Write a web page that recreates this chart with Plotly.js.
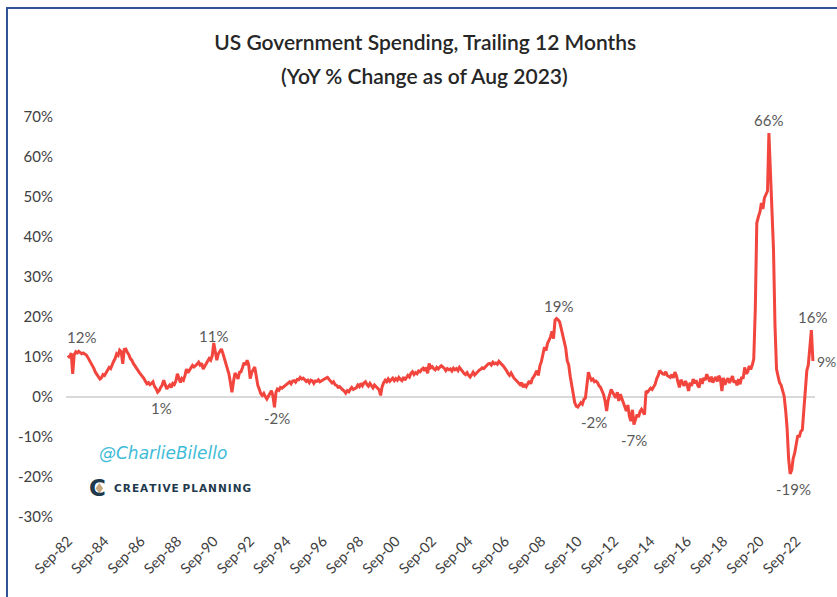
<!DOCTYPE html>
<html>
<head>
<meta charset="utf-8">
<script src="https://cdn.plot.ly/plotly-3.0.1.min.js"></script>
<style>
  html, body { margin: 0; padding: 0; background: #ffffff; }
  #wrap { position: relative; width: 837px; height: 597px; overflow: hidden; }
  #chart { position: absolute; left: 0; top: 0; width: 837px; height: 597px; }
  #frame { position: absolute; left: 6px; top: 7px; width: 900px; height: 700px;
           border-left: 2px solid #2f5597; border-top: 2px solid #2f5597; pointer-events: none; }
</style>
</head>
<body>
<div id="wrap"><div id="chart"></div><div id="frame"></div></div>
<script>
// ---- DATA ----
const titleLine1 = "US Government Spending, Trailing 12 Months";
const titleLine2 = "(YoY % Change as of Aug 2023)";
const startYear = 1982;   // first observation: Sep 1982
const startMonth = 9;

// YoY % change of trailing-12-month US government spending, monthly, Sep 1982 .. Aug 2023
const yoyChange = [
  10.4, 9.8, 11.0, 5.8, 10.6, 11.3, 11.0, 11.4, 11.1, 10.8, 11.0, 10.7,   // Sep82-Aug83
  10.5, 9.9, 9.2, 8.6, 8.0, 7.1, 6.2, 5.6, 5.0, 4.5, 4.8, 5.6,            // 83-84
  5.4, 6.2, 6.6, 7.4, 7.1, 8.2, 8.9, 9.6, 10.8, 10.4, 11.7, 11.3,         // 84-85
  8.3, 11.9, 12.0, 11.2, 10.6, 9.6, 9.2, 8.4, 7.8, 7.0, 6.6, 6.1,         // 85-86
  5.6, 5.2, 4.6, 3.9, 3.3, 3.6, 3.1, 3.4, 3.8, 2.6, 2.1, 1.2,             // 86-87
  1.6, 2.4, 3.0, 4.2, 2.8, 2.0, 2.6, 3.0, 2.4, 3.4, 3.1, 4.0,             // 87-88
  5.8, 4.9, 3.6, 4.6, 4.2, 5.4, 7.0, 6.1, 6.8, 7.2, 7.9, 7.5,             // 88-89
  7.8, 8.2, 8.7, 8.0, 8.4, 7.0, 7.6, 8.3, 9.0, 9.6, 9.2, 10.3,            // 89-90
  13.5, 11.0, 9.2, 10.8, 11.6, 12.0, 11.0, 9.6, 8.2, 7.5, 5.8, 3.6,       // 90-91
  1.2, 3.8, 6.0, 5.4, 4.5, 6.2, 6.3, 7.4, 8.6, 8.0, 9.2, 8.1,             // 91-92
  4.6, 6.1, 7.0, 7.5, 5.2, 2.9, 2.0, 0.8, 0.4, 0.9, 0.1, -0.5,            // 92-93
  0.2, 1.0, 1.6, 0.3, -2.6, 1.2, 2.0, 1.7, 2.4, 2.2, 2.5, 2.9,            // 93-94
  3.0, 3.5, 3.8, 3.3, 4.0, 4.1, 3.7, 4.4, 4.3, 4.9, 4.5, 4.7,             // 94-95
  4.4, 3.9, 4.2, 3.6, 4.2, 4.0, 3.4, 4.0, 3.9, 4.3, 3.8, 4.1,             // 95-96
  4.3, 4.5, 4.7, 4.9, 4.4, 3.9, 3.5, 3.8, 3.1, 2.9, 2.4, 2.6,             // 96-97
  2.1, 1.8, 1.5, 1.0, 1.6, 1.3, 1.9, 2.4, 1.9, 2.2, 2.3, 3.0,             // 97-98
  2.6, 3.4, 2.8, 3.5, 3.8, 3.1, 2.7, 3.4, 2.9, 2.3, 3.0, 2.6,             // 98-99
  2.4, 1.8, 0.4, 2.6, 3.6, 4.2, 3.8, 4.5, 3.9, 4.3, 4.7, 4.1,             // 99-00
  4.6, 4.2, 4.9, 4.4, 4.1, 5.0, 4.2, 4.8, 5.4, 5.0, 5.9, 6.3,             // 00-01
  5.6, 6.1, 5.8, 6.5, 6.3, 6.9, 7.2, 6.6, 7.4, 5.9, 8.4, 7.3,             // 01-02
  7.6, 7.1, 6.8, 7.4, 7.0, 7.5, 7.8, 7.5, 7.2, 6.6, 7.1, 6.8,             // 02-03
  7.0, 6.5, 7.2, 6.8, 7.1, 6.6, 7.4, 6.9, 6.3, 5.9, 5.6, 6.1,             // 03-04
  5.4, 5.0, 5.6, 6.2, 5.5, 6.0, 6.4, 6.7, 6.9, 7.3, 7.1, 7.6,             // 04-05
  7.9, 8.3, 8.4, 8.0, 8.7, 8.3, 8.5, 8.2, 8.9, 8.6, 8.1, 7.7,             // 05-06
  7.2, 6.6, 5.9, 5.4, 6.0, 5.1, 4.7, 4.3, 4.0, 3.5, 3.1, 3.6,             // 06-07
  2.4, 3.2, 2.6, 3.5, 4.0, 3.3, 4.6, 5.1, 5.8, 6.6, 5.4, 7.8,             // 07-08
  8.9, 10.4, 12.5, 11.6, 13.4, 14.2, 15.0, 16.4, 14.6, 19.2, 19.6, 19.3,  // 08-09
  18.8, 17.2, 15.4, 14.0, 12.2, 9.0, 8.1, 5.2, 3.2, 0.6, -1.4, -2.3,      // 09-10
  -2.5, -2.0, -1.4, -1.8, -0.6, -0.2, 2.8, 6.2, 5.0, 4.2, 4.5, 3.8,       // 10-11
  4.0, 3.6, 2.8, 2.4, 1.5, 0.6, -1.0, -3.5, -0.8, 0.4, 1.9, 1.1,          // 11-12
  0.5, -0.2, 1.2, -1.0, 0.7, -0.3, -1.6, -2.4, -3.5, -2.0, -4.8, -6.0,    // 12-13
  -3.2, -6.9, -5.4, -4.4, -5.0, -3.6, -3.1, -3.8, -4.4, 1.5, 1.2, 1.7,    // 13-14
  2.2, 1.9, 2.8, 3.2, 4.6, 5.4, 6.6, 6.1, 5.8, 5.7, 6.3, 5.4,             // 14-15
  5.1, 4.9, 5.6, 4.8, 6.2, 5.3, 3.8, 2.4, 4.3, 3.6, 2.8, 4.0,             // 15-16
  3.1, 1.5, 3.6, 2.8, 4.5, 3.4, 4.2, 3.0, 2.4, 4.6, 3.3, 4.8,             // 16-17
  4.2, 5.7, 4.4, 3.8, 5.1, 3.6, 4.4, 5.0, 3.9, 5.3, 4.6, 1.5,             // 17-18
  4.8, 3.1, 4.0, 4.7, 3.5, 4.4, 5.2, 3.6, 4.1, 2.9, 4.5, 3.2,             // 18-19
  5.0, 4.6, 7.4, 5.8, 6.3, 7.8, 6.9, 8.0, 9.5, 22.0, 43.5, 45.0,          // 19-20
  46.2, 48.5, 47.0, 49.8, 50.8, 51.5, 66.0, 57.0, 47.0, 37.0, 18.0, 7.0,  // 20-21
  5.2, 3.6, 3.0, 1.2, 0.2, -3.5, -7.8, -15.5, -19.2, -18.3, -15.4, -14.0, // 21-22
  -12.0, -9.6, -10.0, -8.6, -8.2, -3.5, 0.5, 6.6, 8.0, 12.0, 16.7, 9.0    // Sep22-Aug23
];

const tickLabels = ["Sep-82","Sep-84","Sep-86","Sep-88","Sep-90","Sep-92","Sep-94","Sep-96",
  "Sep-98","Sep-00","Sep-02","Sep-04","Sep-06","Sep-08","Sep-10","Sep-12","Sep-14","Sep-16",
  "Sep-18","Sep-20","Sep-22"];
const tickDates = ["1982-09-01","1984-09-01","1986-09-01","1988-09-01","1990-09-01","1992-09-01",
  "1994-09-01","1996-09-01","1998-09-01","2000-09-01","2002-09-01","2004-09-01","2006-09-01",
  "2008-09-01","2010-09-01","2012-09-01","2014-09-01","2016-09-01","2018-09-01","2020-09-01","2022-09-01"];

const yTickVals = [-30, -20, -10, 0, 10, 20, 30, 40, 50, 60, 70];
const yTickLabels = ["-30%", "-20%", "-10%", "0%", "10%", "20%", "30%", "40%", "50%", "60%", "70%"];

// data labels shown on the chart
const labelTexts = ["12%", "11%", "1%", "-2%", "19%", "-2%", "-7%", "66%", "16%", "-19%"];
const labelDates = ["1983-05-18","1990-08-18","1987-10-15","1994-02-25","2009-08-01","2011-07-15",
  "2013-10-01","2021-02-12","2023-08-01","2022-07-01"];
const labelVals  = [15.0, 15.2, -2.7, -5.2, 22.8, -6.2, -10.8, 69.3, 20.0, -23.0];
const lastLabel = "9%";

// ---- BUILD ----
const dates = yoyChange.map((v, i) => {
  const t = startMonth - 1 + i;
  const yr = startYear + Math.floor(t / 12);
  const mo = (t % 12) + 1;
  return yr + "-" + String(mo).padStart(2, "0") + "-01";
});

const FONT = "Lato, 'Open Sans', sans-serif";

const trace = {
  type: "scatter", mode: "lines",
  x: dates, y: yoyChange,
  line: { color: "#f2453d", width: 3 },
  hoverinfo: "x+y"
};

const annotations = labelTexts.map((t, i) => ({
  x: labelDates[i], y: labelVals[i], xref: "x", yref: "y", text: t,
  showarrow: false, xanchor: "center", yanchor: "middle",
  font: { family: FONT, size: 15, color: "#595959" }
}));
annotations.push({
  x: dates[dates.length - 1], y: yoyChange[yoyChange.length - 1], xref: "x", yref: "y",
  text: lastLabel, showarrow: false, xanchor: "left", yanchor: "middle", xshift: 2, yshift: 0,
  font: { family: FONT, size: 14, color: "#595959" }
});
annotations.push({
  x: 0.479, y: 1.105, xref: "paper", yref: "paper", text: titleLine2, showarrow: false,
  xanchor: "center", yanchor: "middle",
  font: { family: FONT, size: 21, color: "#262626", weight: 600 }
});
annotations.push({
  x: 0.041, y: 0.16, xref: "paper", yref: "paper", text: "<i>@CharlieBilello</i>", showarrow: false,
  xanchor: "left", yanchor: "middle",
  font: { family: "'DejaVu Sans', sans-serif", size: 17, color: "#3fbcd8" }
});
annotations.push({
  x: 0.028, y: 0.072, xref: "paper", yref: "paper", text: "<b>C</b>", showarrow: false,
  xanchor: "left", yanchor: "middle",
  font: { family: "'DejaVu Sans', sans-serif", size: 23, color: "#1f3a4d" }
});
annotations.push({
  x: 0.061, y: 0.073, xref: "paper", yref: "paper",
  text: "<b>C\u200AR\u200AE\u200AA\u200AT\u200AI\u200AV\u200AE P\u200AL\u200AA\u200AN\u200AN\u200AI\u200AN\u200AG</b>",
  showarrow: false, xanchor: "left", yanchor: "middle",
  font: { family: "'DejaVu Sans', sans-serif", size: 10.5, color: "#1f3a4d" }
});

const layout = {
  width: 837, height: 597,
  paper_bgcolor: "#ffffff", plot_bgcolor: "#ffffff",
  margin: { l: 66, r: 22, t: 117, b: 80, pad: 0 },
  showlegend: false,
  title: {
    text: titleLine1, x: 0.508, xanchor: "center", y: 0.929, yanchor: "middle",
    font: { family: FONT, size: 21, color: "#262626", weight: 600 }
  },
  xaxis: {
    type: "date",
    range: ["1982-07-20", "2023-09-12"],
    tickmode: "array", tickvals: tickDates, ticktext: tickLabels,
    tickangle: -45, ticks: "", showgrid: false, zeroline: false, showline: false,
    ticklabelstandoff: 12,
    tickfont: { family: FONT, size: 14.5, color: "#404040" }
  },
  yaxis: {
    range: [-30, 70], tickmode: "array", tickvals: yTickVals, ticktext: yTickLabels,
    ticks: "", showgrid: false, showline: false,
    zeroline: true, zerolinecolor: "#d9d9d9", zerolinewidth: 1.2,
    ticklabelstandoff: 12,
    tickfont: { family: FONT, size: 15, color: "#404040" }
  },
  annotations: annotations,
  shapes: [{
    type: "path", xref: "paper", yref: "paper",
    path: "M 0.0395 0.072 L 0.0445 0.085 L 0.0495 0.072 L 0.0445 0.059 Z",
    fillcolor: "#c9a77c", line: { width: 0 }
  }]
};

Plotly.newPlot("chart", [trace], layout, { displayModeBar: false, staticPlot: true });
</script>
</body>
</html>
